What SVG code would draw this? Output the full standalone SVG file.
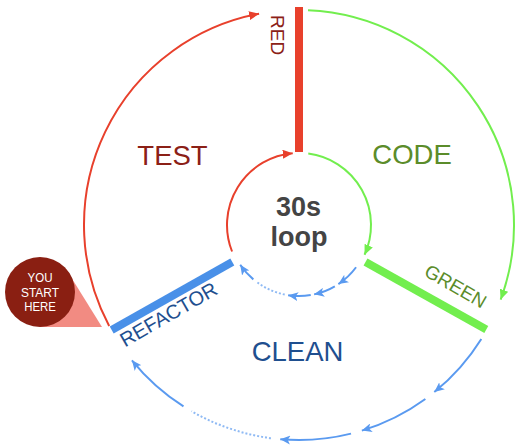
<svg xmlns="http://www.w3.org/2000/svg" width="522" height="446" viewBox="0 0 522 446">
<style>
text{font-family:"Liberation Sans",Arial,sans-serif}
.bar{fill:none;stroke-width:8;stroke-linecap:butt}
.arc{fill:none;stroke-width:2}
.r{stroke:#e8402c}
.g{stroke:#72ee4e}
.b{stroke:#5a9af0}
.dot{stroke:#8fbaf4;stroke-dasharray:2 2}
.lbl{font-size:19px}
.phase{font-size:27.5px;text-anchor:middle}
.red{fill:#8b2016}
.grn{fill:#5b8c2a}
.blu{fill:#1f4f8f}
.ctr{font-size:27px;font-weight:bold;fill:#444;text-anchor:middle}
.start{font-size:13px;fill:#fff;text-anchor:middle}
</style>
<defs>
<marker id="ar" markerUnits="userSpaceOnUse" markerWidth="11" markerHeight="9" refX="10" refY="4.5" orient="auto"><path d="M0,0 L10,4.5 L0,9 Z" fill="#e8402c"/></marker>
<marker id="ag" markerUnits="userSpaceOnUse" markerWidth="11" markerHeight="9" refX="10" refY="4.5" orient="auto"><path d="M0,0 L10,4.5 L0,9 Z" fill="#72ee4e"/></marker>
<marker id="ab" markerUnits="userSpaceOnUse" markerWidth="11" markerHeight="9" refX="10" refY="4.5" orient="auto"><path d="M0,0 L10,4.5 L0,9 L2.5,4.5 Z" fill="#5a9af0"/></marker>
</defs>
<rect width="522" height="446" fill="#fff"/>
<g id="connectors">
<path class="arc r" d="M109.17,325.94 A215,215 0 0 1 259.08,13.74" marker-end="url(#ar)"/>
<path class="arc g" d="M308.0,10.19 A215,215 0 0 1 500.65,299.59" marker-end="url(#ag)"/>
<path class="arc b" d="M481.33,338.93 A215,215 0 0 1 434.30,392.09" marker-end="url(#ab)"/>
<path class="arc b" d="M425.37,398.94 A215,215 0 0 1 361.86,430.60" marker-end="url(#ab)"/>
<path class="arc b" d="M351.01,433.61 A215,215 0 0 1 280.26,439.18" marker-end="url(#ab)"/>
<path class="arc b dot" d="M270.94,438.16 A215,215 0 0 1 191.5,411.20"/>
<path class="arc b" d="M183.48,406.33 A215,215 0 0 1 131.91,360.30" marker-end="url(#ab)"/>
<path class="arc r" d="M232.06,251.50 A72,72 0 0 1 292.72,153.27" marker-end="url(#ar)"/>
<path class="arc g" d="M308.27,153.60 A72,72 0 0 1 364.57,254.74" marker-end="url(#ag)"/>
<path class="arc b" d="M356.07,267.23 A71,71 0 0 1 338.39,284.07" marker-end="url(#ab)"/>
<path class="arc b" d="M334.83,286.30 A71,71 0 0 1 314.13,294.37" marker-end="url(#ab)"/>
<path class="arc b" d="M310.72,295.03 A71,71 0 0 1 288.14,295.16" marker-end="url(#ab)"/>
<path class="arc b dot" d="M284.72,294.55 A71,71 0 0 1 256.77,282.07"/>
<path class="arc b" d="M253.36,279.39 A71,71 0 0 1 240.21,264.81" marker-end="url(#ab)"/>
</g>
<g id="red">
<line class="bar" x1="299" y1="7" x2="299" y2="152" stroke="#e8402c" stroke-width="7.5"/>
<text class="lbl red" transform="translate(271,15) rotate(90)">RED</text>
</g>
<g id="green">
<line class="bar" x1="365.5" y1="262" x2="486.3" y2="329.5" stroke="#72ee4e"/>
<text class="lbl grn" transform="translate(423,275) rotate(30)">GREEN</text>
</g>
<g id="refactor">
<line class="bar" x1="232.3" y1="262" x2="111.7" y2="330" stroke="#4990e8"/>
<text class="blu" font-size="20" transform="translate(125,347.5) rotate(-30)">REFACTOR</text>
</g>
<g id="test"><text class="phase red" x="172.5" y="164.5">TEST</text></g>
<g id="code"><text class="phase grn" x="412" y="164">CODE</text></g>
<g id="clean"><text class="phase blu" x="297.5" y="361">CLEAN</text></g>
<g id="loop">
<text class="ctr" x="298.5" y="216">30s</text>
<text class="ctr" x="299" y="245.5">loop</text>
</g>
<g id="start">
<polygon points="40,327 102,327 66,269" fill="#f28b82"/>
<circle cx="40" cy="292" r="35" fill="#8a1f12"/>
<text class="start" x="40" y="282" textLength="25" lengthAdjust="spacingAndGlyphs">YOU</text>
<text class="start" x="40" y="296.5" textLength="38" lengthAdjust="spacingAndGlyphs">START</text>
<text class="start" x="40" y="310.5" textLength="31.7" lengthAdjust="spacingAndGlyphs">HERE</text>
</g>
</svg>
